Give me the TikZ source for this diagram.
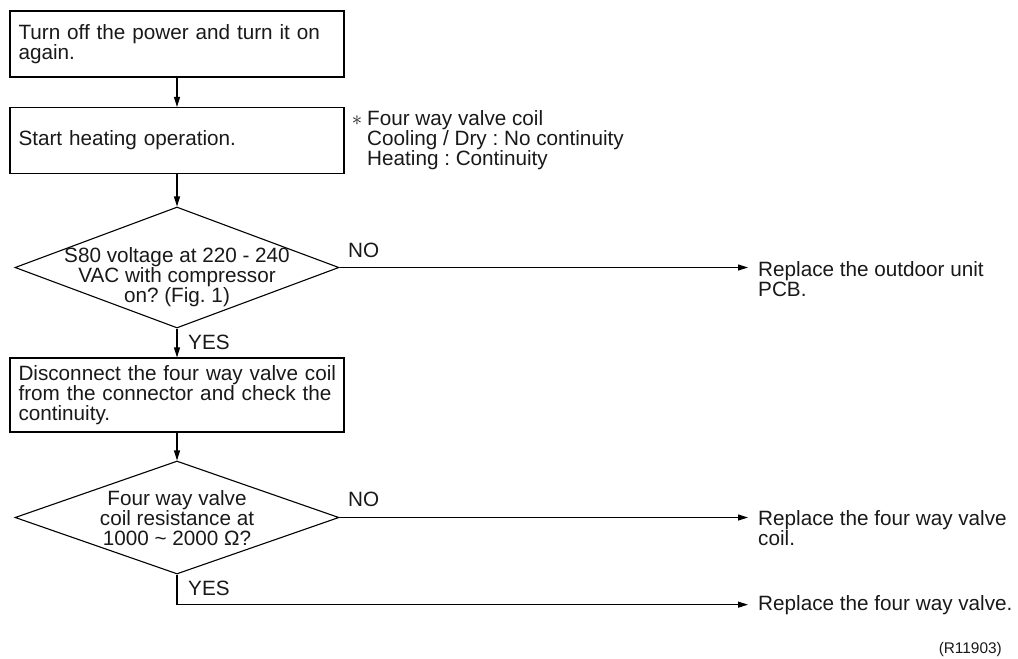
\documentclass[tikz,border=0pt]{standalone}
\usepackage{fontspec}
\setmainfont{Liberation Sans}
\usetikzlibrary{arrows.meta,shapes.geometric}
\frenchspacing
\begin{document}
\begin{tikzpicture}[x=1pt,y=-1pt,
  every node/.style={font=\fontsize{20.7}{20}\selectfont\frenchspacing, inner sep=0pt, text=black!90},
  box/.style={draw=black, line width=1.1pt, minimum width=334pt, text width=317pt, align=left, inner xsep=8.5pt},
  dia/.style={draw=black, shape=diamond, line width=1.1pt, minimum width=324pt},
  arr/.style={line width=1.1pt, -{Triangle[length=10pt,width=6pt]}},
  lbl/.style={anchor=base west}]
\useasboundingbox (0,0) rectangle (1018,659);
\node[box, minimum height=66pt] (b1) at (177,44) {\mbox{Turn off the power and turn it on}\\again.};
\node[box, minimum height=66pt] (b2) at (177,140.5) {Start heating operation.};
\node[anchor=north west, align=left] (note) at (367,110) {\llap{$\ast$\hspace{5pt}}Four way valve coil\\Cooling / Dry : No continuity\\Heating : Continuity};
\node[dia, minimum height=121pt] (d1) at (177,267.5) {};
\node[align=center] (d1t) at (177,277.5) {S80 voltage at 220 - 240\\VAC with compressor\\on? (Fig. 1)};
\node[box, minimum height=74pt] (b3) at (177,395) {\mbox{Disconnect the four way valve coil}\\\mbox{from the connector and check the}\\continuity.};
\node[dia, minimum height=113pt] (d2) at (177,517.5) {};
\node[align=center] (d2t) at (177,518) {Four way valve\\coil resistance at\\1000 \textasciitilde{} 2000 Ω?};
\node[lbl] (no1) at (348,257) {NO};
\node[lbl] (yes1) at (188,349) {YES};
\node[lbl] (no2) at (348,506) {NO};
\node[lbl] (yes2) at (188,595) {YES};
\node[anchor=north west, align=left] (r1) at (758,261) {Replace the outdoor unit\\PCB.};
\node[anchor=north west, align=left] (r2) at (758,510) {Replace the four way valve\\coil.};
\node[lbl] (r3) at (758,610) {Replace the four way valve.};
\node[anchor=base east, font=\fontsize{15.4}{18}\selectfont] (ref) at (1002,653) {(R11903)};
\draw[arr] (b1) -- (b2);
\draw[arr] (b2) -- (d1);
\draw[arr] (d1) -- (b3);
\draw[arr] (b3) -- (d2);
\draw[arr, shorten >=10pt] (d1.east) -- (d1.east -| r1.west);
\draw[arr, shorten >=10pt] (d2.east) -- (d2.east -| r2.west);
\draw[arr, shorten >=10pt] (d2.south) |- (r3.west);
\end{tikzpicture}
\end{document}
